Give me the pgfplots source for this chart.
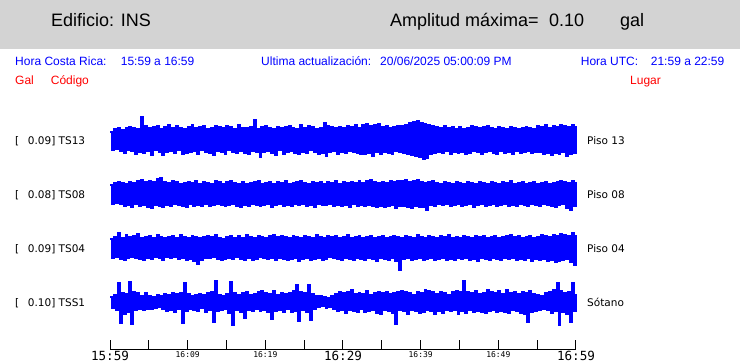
\documentclass[border=0pt]{standalone}
\usepackage{fontspec}
\setmainfont{Liberation Sans}
\newfontfamily\dejavu{DejaVu Sans}
\newfontfamily\dmono{DejaVu Sans Mono}
\usepackage{pgfplots}
\usepackage{pgfplotstable}
\pgfplotsset{compat=1.18}
\definecolor{band}{RGB}{211,211,211}
% TS13 (Piso 13)
\pgfplotstableread[row sep=\\]{y\\
8\\ -10\\ 11\\ -9\\ 12\\ -11\\ 10\\ -13\\ 12\\ -10\\
13\\ -11\\ 12\\ -14\\ 11\\ -12\\ 23\\ -13\\ 14\\ -11\\
12\\ -15\\ 13\\ -10\\ 14\\ -12\\ 11\\ -15\\ 13\\ -12\\
15\\ -11\\ 12\\ -13\\ 14\\ -10\\ 12\\ -14\\ 11\\ -13\\
13\\ -12\\ 15\\ -11\\ 12\\ -14\\ 13\\ -10\\ 14\\ -12\\
11\\ -13\\ 12\\ -15\\ 14\\ -11\\ 13\\ -12\\ 12\\ -14\\
14\\ -10\\ 13\\ -12\\ 11\\ -13\\ 15\\ -11\\ 12\\ -13\\
12\\ -14\\ 13\\ -11\\ 20\\ -12\\ 11\\ -17\\ 13\\ -12\\
14\\ -11\\ 12\\ -13\\ 11\\ -15\\ 13\\ -10\\ 12\\ -14\\
13\\ -12\\ 14\\ -11\\ 12\\ -13\\ 11\\ -14\\ 15\\ -12\\
12\\ -13\\ 14\\ -10\\ 13\\ -12\\ 11\\ -14\\ 12\\ -13\\
17\\ -16\\ 14\\ -12\\ 13\\ -11\\ 12\\ -14\\ 13\\ -12\\
12\\ -13\\ 14\\ -11\\ 13\\ -12\\ 15\\ -13\\ 12\\ -14\\
15\\ -14\\ 16\\ -13\\ 14\\ -16\\ 15\\ -12\\ 16\\ -14\\
13\\ -12\\ 14\\ -13\\ 12\\ -14\\ 13\\ -11\\ 14\\ -12\\
14\\ -13\\ 15\\ -14\\ 17\\ -15\\ 18\\ -16\\ 19\\ -17\\
17\\ -19\\ 16\\ -18\\ 15\\ -14\\ 14\\ -13\\ 13\\ -12\\
12\\ -13\\ 14\\ -11\\ 12\\ -14\\ 13\\ -12\\ 11\\ -13\\
13\\ -12\\ 11\\ -14\\ 12\\ -13\\ 14\\ -11\\ 13\\ -12\\
12\\ -14\\ 13\\ -12\\ 14\\ -11\\ 12\\ -13\\ 11\\ -14\\
13\\ -11\\ 12\\ -13\\ 11\\ -12\\ 13\\ -14\\ 12\\ -11\\
11\\ -13\\ 12\\ -12\\ 13\\ -11\\ 12\\ -13\\ 11\\ -12\\
14\\ -12\\ 13\\ -14\\ 15\\ -13\\ 12\\ -15\\ 14\\ -13\\
13\\ -14\\ 15\\ -12\\ 14\\ -16\\ 13\\ -14\\ 15\\ -13\\
14\\
}\tsA
% TS08 (Piso 08)
\pgfplotstableread[row sep=\\]{y\\
9\\ -10\\ 11\\ -9\\ 12\\ -10\\ 11\\ -12\\ 10\\ -11\\
12\\ -13\\ 11\\ -10\\ 13\\ -12\\ 14\\ -11\\ 12\\ -13\\
13\\ -14\\ 12\\ -11\\ 15\\ -12\\ 16\\ -13\\ 12\\ -11\\
11\\ -12\\ 13\\ -10\\ 12\\ -11\\ 10\\ -12\\ 11\\ -13\\
12\\ -10\\ 11\\ -12\\ 13\\ -11\\ 10\\ -12\\ 12\\ -10\\
11\\ -12\\ 10\\ -11\\ 13\\ -10\\ 12\\ -11\\ 10\\ -12\\
12\\ -11\\ 13\\ -10\\ 11\\ -12\\ 10\\ -13\\ 12\\ -11\\
10\\ -12\\ 11\\ -10\\ 12\\ -11\\ 13\\ -12\\ 10\\ -11\\
11\\ -10\\ 12\\ -13\\ 10\\ -11\\ 12\\ -10\\ 11\\ -12\\
13\\ -11\\ 10\\ -12\\ 11\\ -10\\ 12\\ -11\\ 13\\ -10\\
11\\ -12\\ 10\\ -11\\ 12\\ -13\\ 11\\ -10\\ 12\\ -11\\
10\\ -11\\ 12\\ -10\\ 11\\ -12\\ 13\\ -11\\ 10\\ -12\\
12\\ -11\\ 11\\ -13\\ 12\\ -10\\ 11\\ -12\\ 13\\ -11\\
11\\ -12\\ 13\\ -11\\ 14\\ -12\\ 12\\ -13\\ 11\\ -12\\
12\\ -13\\ 11\\ -12\\ 13\\ -11\\ 12\\ -14\\ 13\\ -12\\
13\\ -12\\ 14\\ -13\\ 12\\ -14\\ 13\\ -12\\ 14\\ -13\\
12\\ -13\\ 11\\ -16\\ 12\\ -11\\ 13\\ -12\\ 11\\ -10\\
10\\ -11\\ 12\\ -10\\ 11\\ -12\\ 10\\ -11\\ 12\\ -10\\
11\\ -12\\ 10\\ -11\\ 12\\ -10\\ 11\\ -13\\ 10\\ -11\\
12\\ -10\\ 11\\ -12\\ 10\\ -11\\ 12\\ -10\\ 11\\ -12\\
10\\ -11\\ 12\\ -10\\ 11\\ -12\\ 13\\ -11\\ 10\\ -12\\
11\\ -10\\ 12\\ -11\\ 10\\ -12\\ 11\\ -10\\ 12\\ -11\\
10\\ -12\\ 11\\ -10\\ 12\\ -11\\ 10\\ -12\\ 11\\ -13\\
12\\ -11\\ 13\\ -10\\ 12\\ -14\\ 11\\ -16\\ 13\\ -12\\
12\\
}\tsB
% TS04 (Piso 04)
\pgfplotstableread[row sep=\\]{y\\
9\\ -10\\ 11\\ -9\\ 15\\ -11\\ 10\\ -12\\ 13\\ -10\\
11\\ -9\\ 12\\ -10\\ 14\\ -11\\ 10\\ -12\\ 11\\ -10\\
12\\ -11\\ 10\\ -9\\ 13\\ -10\\ 11\\ -12\\ 10\\ -9\\
11\\ -10\\ 12\\ -9\\ 10\\ -11\\ 13\\ -10\\ 11\\ -12\\
10\\ -11\\ 12\\ -13\\ 11\\ -16\\ 10\\ -12\\ 11\\ -10\\
12\\ -10\\ 11\\ -9\\ 13\\ -11\\ 10\\ -12\\ 9\\ -11\\
11\\ -10\\ 12\\ -11\\ 10\\ -9\\ 12\\ -11\\ 10\\ -12\\
13\\ -10\\ 11\\ -12\\ 10\\ -11\\ 12\\ -9\\ 11\\ -10\\
10\\ -11\\ 12\\ -10\\ 13\\ -12\\ 11\\ -10\\ 12\\ -11\\
11\\ -12\\ 10\\ -11\\ 12\\ -10\\ 11\\ -13\\ 10\\ -11\\
12\\ -10\\ 11\\ -12\\ 10\\ -11\\ 13\\ -10\\ 11\\ -12\\
10\\ -11\\ 12\\ -9\\ 11\\ -10\\ 12\\ -11\\ 10\\ -12\\
11\\ -10\\ 13\\ -11\\ 10\\ -12\\ 11\\ -10\\ 12\\ -11\\
10\\ -12\\ 11\\ -10\\ 12\\ -11\\ 10\\ -13\\ 11\\ -10\\
12\\ -11\\ 10\\ -12\\ 11\\ -10\\ 12\\ -13\\ 11\\ -22\\
10\\ -11\\ 12\\ -10\\ 11\\ -12\\ 10\\ -11\\ 13\\ -10\\
11\\ -12\\ 10\\ -11\\ 12\\ -10\\ 11\\ -12\\ 10\\ -11\\
12\\ -10\\ 11\\ -12\\ 13\\ -11\\ 10\\ -12\\ 11\\ -10\\
10\\ -11\\ 12\\ -10\\ 11\\ -12\\ 10\\ -11\\ 12\\ -13\\
11\\ -10\\ 12\\ -11\\ 10\\ -12\\ 11\\ -10\\ 12\\ -11\\
10\\ -12\\ 11\\ -10\\ 12\\ -11\\ 13\\ -10\\ 11\\ -12\\
12\\ -11\\ 10\\ -12\\ 11\\ -10\\ 12\\ -13\\ 10\\ -11\\
11\\ -12\\ 13\\ -11\\ 12\\ -13\\ 11\\ -12\\ 13\\ -14\\
12\\ -13\\ 14\\ -12\\ 13\\ -11\\ 12\\ -14\\ 15\\ -17\\
13\\
}\tsC
% TSS1 (Sotano)
\pgfplotstableread[row sep=\\]{y\\
5\\ -6\\ 7\\ -8\\ 19\\ -21\\ 9\\ -12\\ 8\\ -10\\
20\\ -22\\ 10\\ -8\\ 9\\ -7\\ 6\\ -8\\ 9\\ -7\\
6\\ -7\\ 5\\ -6\\ 7\\ -5\\ 6\\ -7\\ 8\\ -9\\
7\\ -8\\ 9\\ -10\\ 8\\ -7\\ 9\\ -21\\ 19\\ -9\\
8\\ -7\\ 6\\ -8\\ 7\\ -9\\ 8\\ -6\\ 7\\ -10\\
9\\ -8\\ 10\\ -20\\ 21\\ -9\\ 7\\ -8\\ 6\\ -7\\
8\\ -11\\ 20\\ -23\\ 9\\ -8\\ 7\\ -10\\ 9\\ -16\\
10\\ -8\\ 7\\ -9\\ 8\\ -7\\ 10\\ -9\\ 11\\ -8\\
9\\ -10\\ 8\\ -17\\ 11\\ -9\\ 7\\ -8\\ 9\\ -10\\
8\\ -7\\ 9\\ -10\\ 11\\ -9\\ 17\\ -19\\ 10\\ -8\\
9\\ -10\\ 17\\ -18\\ 8\\ -7\\ 6\\ -5\\ 6\\ -4\\
5\\ -6\\ 4\\ -5\\ 6\\ -7\\ 8\\ -9\\ 10\\ -8\\
9\\ -11\\ 10\\ -8\\ 12\\ -9\\ 8\\ -10\\ 9\\ -7\\
8\\ -10\\ 11\\ -9\\ 7\\ -8\\ 9\\ -11\\ 10\\ -12\\
9\\ -8\\ 10\\ -9\\ 8\\ -11\\ 9\\ -22\\ 10\\ -8\\
11\\ -9\\ 10\\ -12\\ 9\\ -8\\ 7\\ -9\\ 10\\ -11\\
9\\ -10\\ 12\\ -8\\ 11\\ -9\\ 10\\ -12\\ 8\\ -9\\
10\\ -11\\ 9\\ -8\\ 7\\ -9\\ 10\\ -8\\ 11\\ -12\\
10\\ -9\\ 21\\ -11\\ 10\\ -8\\ 9\\ -10\\ 11\\ -9\\
8\\ -10\\ 9\\ -11\\ 12\\ -9\\ 10\\ -8\\ 9\\ -10\\
11\\ -9\\ 8\\ -10\\ 12\\ -11\\ 9\\ -8\\ 10\\ -9\\
8\\ -11\\ 10\\ -12\\ 9\\ -20\\ 11\\ -10\\ 8\\ -9\\
7\\ -8\\ 6\\ -7\\ 9\\ -8\\ 10\\ -11\\ 12\\ -9\\
19\\ -23\\ 11\\ -10\\ 9\\ -12\\ 10\\ -20\\ 19\\ -9\\
8\\
}\tsD
\begin{document}
\begin{tikzpicture}[x=1pt,y=1pt]
\path[use as bounding box] (0,0) rectangle (740,363);
\fill[band] (0,313.5) rectangle (740,363);
\begin{scope}[every node/.style={inner sep=0pt, anchor=base west}]
\node[font=\fontsize{18}{20}\selectfont] at (51,336.5) {Edificio: INS};
\node[font=\fontsize{18}{20}\selectfont] at (390,336.5) {Amplitud máxima=};
\node[font=\fontsize{18}{20}\selectfont] at (549,336.5) {0.10};
\node[font=\fontsize{18}{20}\selectfont] at (620,336.5) {gal};
\node[font=\fontsize{12}{14}\selectfont, text=blue] at (15,297.7) {Hora Costa Rica:};
\node[font=\fontsize{12}{14}\selectfont, text=blue] at (120.7,297.7) {15:59 a 16:59};
\node[font=\fontsize{12}{14}\selectfont, text=blue] at (261,297.7) {Ultima actualización:};
\node[font=\fontsize{12}{14}\selectfont, text=blue] at (380,297.7) {20/06/2025 05:00:09 PM};
\node[font=\fontsize{12}{14}\selectfont, text=blue] at (580.7,297.7) {Hora UTC:};
\node[font=\fontsize{12}{14}\selectfont, text=blue] at (650.7,297.7) {21:59 a 22:59};
\node[font=\fontsize{12}{14}\selectfont, text=red] at (15,278.3) {Gal};
\node[font=\fontsize{12}{14}\selectfont, text=red] at (50.7,278.3) {Código};
\node[font=\fontsize{12}{14}\selectfont, text=red] at (630,278.3) {Lugar};
\begin{scope}[every node/.append style={font=\dejavu\fontsize{10.5}{12}\selectfont}]
\node at (15,218) {[}; \node at (27.7,218) {0.09] TS13}; \node at (587,218) {Piso 13};
\node at (15,164) {[}; \node at (27.7,164) {0.08] TS08}; \node at (587,164) {Piso 08};
\node at (15,110) {[}; \node at (27.7,110) {0.09] TS04}; \node at (587,110) {Piso 04};
\node at (15,56) {[}; \node at (27.7,56) {0.10] TSS1}; \node at (587,56) {Sótano};
\end{scope}
\end{scope}
\begin{axis}[
  at={(110pt,13.5pt)}, anchor=origin,
  width=466pt, height=239pt, scale only axis,
  xmin=0, xmax=60, ymin=0, ymax=239,
  axis x line*=bottom, axis y line=none,
  axis line style={-, line width=1pt, black},
  xtick={0,5,...,60}, ytick=\empty,
  tick align=inside, major tick length=9pt,
  tick style={line width=1pt, black},
  xticklabel style={font=\dmono, inner sep=0pt, yshift=-1.8pt},
  xticklabels={{\fontsize{12.6}{14}\selectfont 15:59},{},{\fontsize{8}{9}\selectfont 16:09},{},{\fontsize{8}{9}\selectfont 16:19},{},{\fontsize{12.6}{14}\selectfont 16:29},{},{\fontsize{8}{9}\selectfont 16:39},{},{\fontsize{8}{9}\selectfont 16:49},{},{\fontsize{12.6}{14}\selectfont 16:59}},
  clip=false,
]
\addplot[blue, line width=2pt, const plot, mark=none] table[x index=0, y index=0, x expr=\coordindex/4, y expr=\thisrow{y}+209] {\tsA};
\addplot[blue, line width=2pt, const plot, mark=none] table[x index=0, y index=0, x expr=\coordindex/4, y expr=\thisrow{y}+155] {\tsB};
\addplot[blue, line width=2pt, const plot, mark=none] table[x index=0, y index=0, x expr=\coordindex/4, y expr=\thisrow{y}+101] {\tsC};
\addplot[blue, line width=2pt, const plot, mark=none] table[x index=0, y index=0, x expr=\coordindex/4, y expr=\thisrow{y}+47] {\tsD};
\end{axis}
\end{tikzpicture}
\end{document}
